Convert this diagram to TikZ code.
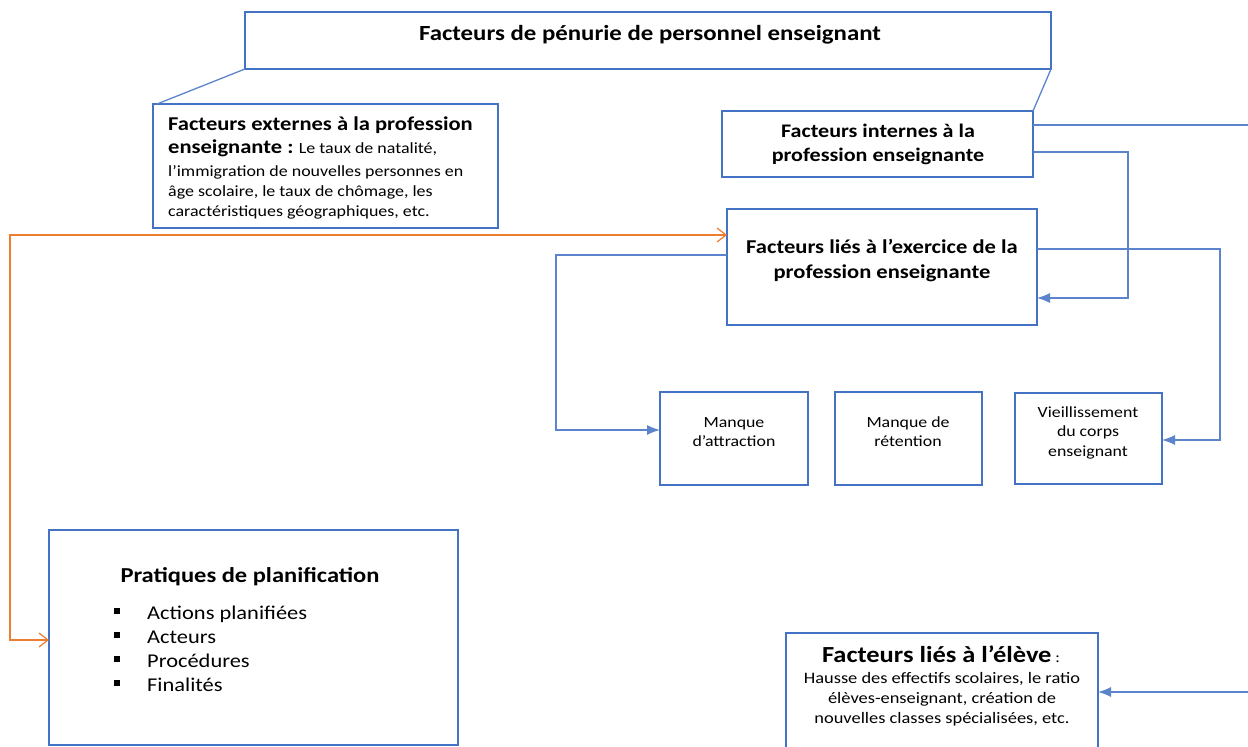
\documentclass[tikz,border=0pt]{standalone}
\usepackage{fontspec}
\setmainfont{Carlito}[FakeStretch=1.15]
\usetikzlibrary{arrows.meta}
\definecolor{bblue}{HTML}{4472C4}
\definecolor{lblue}{HTML}{5B84CC}
\definecolor{orng}{HTML}{ED7D31}
\newcommand{\fs}[1]{\fontsize{#1}{#1}\selectfont}
\begin{document}
\begin{tikzpicture}[x=1pt,y=-1pt,
  box/.style={draw=bblue,line width=2.6pt,rectangle,inner sep=0pt,outer sep=0pt,anchor=north west},
  conn/.style={draw=lblue,line width=1.3pt},
  tip/.style={-{Latex[length=13pt,width=10pt]}},
  otip/.style={{Straight Barb[length=9pt,width=14pt]}-{Straight Barb[length=9pt,width=14pt]}},
  txt/.style={inner sep=0pt,text=black}]
\useasboundingbox (0,0) rectangle (1248,747);
% boxes
\node[box,minimum width=806pt,minimum height=57pt] (top) at (245,12) {};
\node[box,minimum width=345pt,minimum height=124pt] (ext) at (153,104) {};
\node[box,minimum width=311pt,minimum height=66pt] (int) at (722,111) {};
\node[box,minimum width=310pt,minimum height=116pt] (exer) at (727,209) {};
\node[box,minimum width=148pt,minimum height=93pt] (attr) at (660,392) {};
\node[box,minimum width=147pt,minimum height=93pt] (ret) at (835,392) {};
\node[box,minimum width=147pt,minimum height=91pt] (vieil) at (1015,393) {};
\node[box,minimum width=409pt,minimum height=215pt] (plan) at (49,530) {};
\node[box,minimum width=312pt,minimum height=118pt] (eleve) at (786,633) {};
% texts (anchor=base is the baseline of the last line)
\node[txt,anchor=base,font=\bfseries\fs{21.6}] (ttop) at (650,40) {Facteurs de pénurie de personnel enseignant};
\node[txt,anchor=base west,align=left,font=\fontsize{15.6}{20}\selectfont] (text) at (168,216)
 {{\bfseries\fs{19.6}Facteurs externes à la profession}\\[3pt]
  {\bfseries\fs{19.6}enseignante :} Le taux de natalité,\\[3pt]
  l’immigration de nouvelles personnes en\\
  âge scolaire, le taux de chômage, les\\
  caractéristiques géographiques, etc.};
\node[txt,anchor=base,align=center,font=\bfseries\fontsize{19.2}{24}\selectfont] (tint) at (878,161)
 {Facteurs internes à la\\profession enseignante};
\node[txt,anchor=base,align=center,font=\bfseries\fontsize{19.6}{25}\selectfont] (texer) at (882,278)
 {Facteurs liés à l’exercice de la\\profession enseignante};
\node[txt,anchor=base,align=center,font=\fontsize{15.5}{19}\selectfont] (tattr) at (734,446)
 {Manque\\d’attraction};
\node[txt,anchor=base,align=center,font=\fontsize{15.5}{19}\selectfont] (tret) at (908,446)
 {Manque de\\rétention};
\node[txt,anchor=base,align=center,font=\fontsize{15.5}{19.5}\selectfont] (tvieil) at (1088,456)
 {Vieillissement\\du corps\\enseignant};
\node[txt,anchor=base,font=\bfseries\fs{21.3}] (tplan) at (250,582) {Pratiques de planification};
\foreach \i/\t/\y in {1/Actions planifiées/619,2/Acteurs/643,3/Procédures/667,4/Finalités/691}{
  \node[txt,anchor=base west,font=\fs{19.5}] (item\i) at (147,\y) {\t};
  \fill[black] (114,\y-11.5) rectangle ++(6,6);
}
\node[txt,anchor=base,font=\fs{23}] (tel) at (941,662) {\textbf{Facteurs liés à l’élève}\,{\fs{15}:}};
\node[txt,anchor=base,align=center,font=\fontsize{16}{19.8}\selectfont] (telb) at (942,723)
 {Hausse des effectifs scolaires, le ratio\\élèves-enseignant, création de\\nouvelles classes spécialisées, etc.};
% free ends
\coordinate (edgeA) at (1248,125);
\coordinate (edgeB) at (1248,692);
% connectors
\draw[conn] (top.south west) -- ([xshift=4pt]ext.north west);
\draw[conn] (top.south east) -- (int.north east);
\draw[conn] ([yshift=19pt]int.east) -- (edgeA);
\draw[conn,tip] ([yshift=-8pt]int.east) -| (1128,298) -- ([yshift=-31pt]exer.east);
\draw[conn,tip] ([yshift=12pt]exer.west) -| (556,430) -- ([yshift=8.5pt]attr.west);
\draw[conn,tip] ([yshift=18pt]exer.east) -| (1220,440) -- ([yshift=-1.5pt]vieil.east);
\draw[conn,tip] (edgeB) -- (eleve.east);
\draw[draw=orng,line width=1.2pt,otip] ([yshift=32pt]exer.west) -- (10,235) -- (10,640) -- ([yshift=-2.5pt]plan.west);
\end{tikzpicture}
\end{document}
